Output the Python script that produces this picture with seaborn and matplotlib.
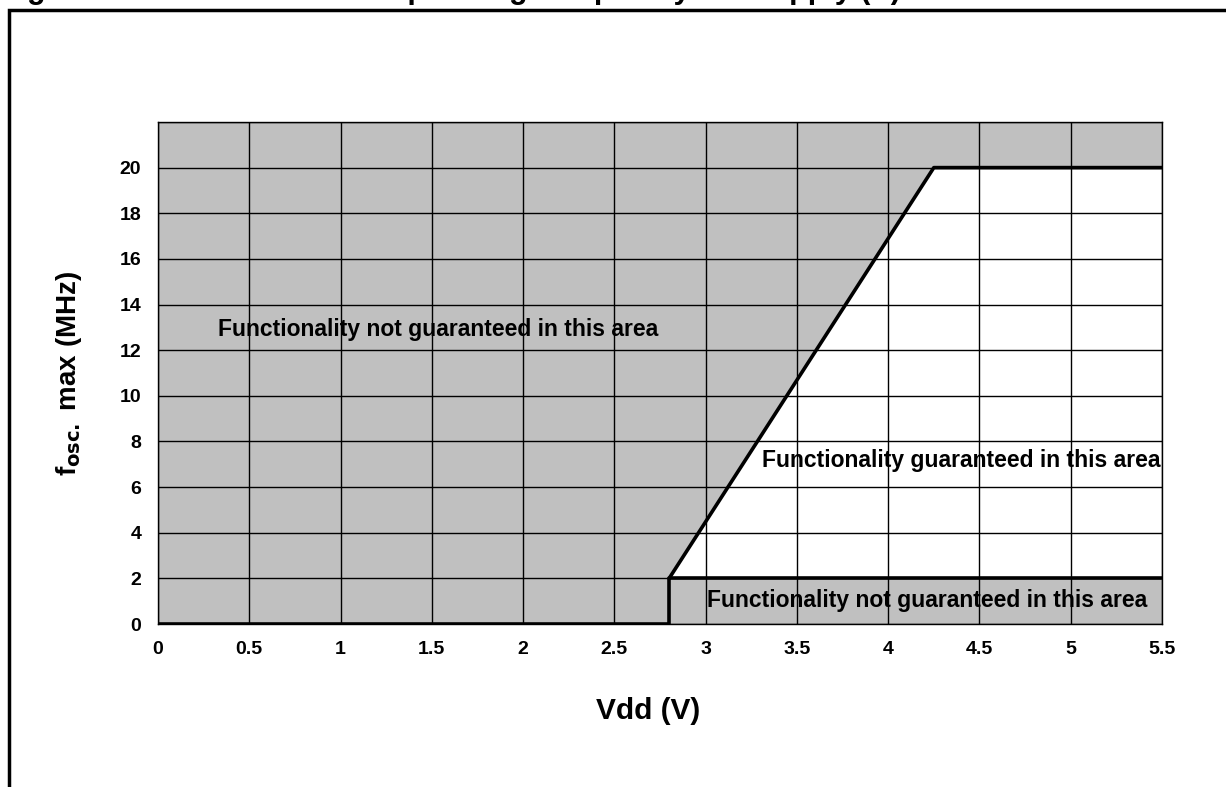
import matplotlib
matplotlib.use("Agg")
import matplotlib.pyplot as plt
import seaborn as sns
import pandas as pd
from matplotlib.patches import Rectangle

# limit line of the guaranteed operating area
limit_vdd = [2.8, 4.25, 5.5]
limit_fosc = [2, 20, 20]
# lower step of the curve
step_vdd = [0, 2.8, 2.8, 5.5]
step_fosc = [0, 0, 2, 2]

x_ticks = [0, 0.5, 1, 1.5, 2, 2.5, 3, 3.5, 4, 4.5, 5, 5.5]
x_labels = ["0", "0.5", "1", "1.5", "2", "2.5", "3", "3.5", "4", "4.5", "5", "5.5"]
y_ticks = [0, 2, 4, 6, 8, 10, 12, 14, 16, 18, 20]
y_labels = ["0", "2", "4", "6", "8", "10", "12", "14", "16", "18", "20"]

sns.set_theme(style="white")
plt.rcParams['font.family'] = ['Liberation Sans', 'DejaVu Sans']
plt.rcParams['font.weight'] = 'bold'
plt.rcParams['text.color'] = 'black'
plt.rcParams['axes.labelcolor'] = 'black'
plt.rcParams['xtick.color'] = 'black'
plt.rcParams['ytick.color'] = 'black'

fig = plt.figure(figsize=(12.26, 7.87), dpi=100)
ax = fig.add_axes([0.1289, 0.2071, 0.8189, 0.6379])
ax.set_facecolor('#c0c0c0')

# white area where the device works
ax.fill_between(limit_vdd, [step_fosc[-1]] * len(limit_vdd), limit_fosc,
                color='white', zorder=1, linewidth=0)

# grid
for xv in x_ticks:
    ax.axvline(xv, color='black', lw=1.0, zorder=2)
for yv in y_ticks + [22]:
    ax.axhline(yv, color='black', lw=1.0, zorder=2)

df_limit = pd.DataFrame({'vdd': limit_vdd, 'fosc': limit_fosc})
df_step = pd.DataFrame({'vdd': step_vdd, 'fosc': step_fosc})
sns.lineplot(data=df_limit, x='vdd', y='fosc', sort=False, estimator=None,
             color='black', lw=2.6, ax=ax, zorder=4)
sns.lineplot(data=df_step, x='vdd', y='fosc', sort=False, estimator=None,
             color='black', lw=2.6, ax=ax, zorder=4)

ax.set_xlim(0, 5.5)
ax.set_ylim(0, 22)
ax.set_xticks(x_ticks)
ax.set_xticklabels(x_labels, fontsize=14, fontweight='bold')
ax.set_yticks(y_ticks)
ax.set_yticklabels(y_labels, fontsize=14, fontweight='bold')
ax.tick_params(length=0, pad=12)
for s in ax.spines.values():
    s.set_color('black')
    s.set_linewidth(1.0)

ax.set_xlabel("Vdd (V)", fontsize=21.5, fontweight='bold')
ax.xaxis.set_label_coords(0.488, -0.145)
ax.set_ylabel(r"f$_{\mathbf{osc.}}$ max (MHz)", fontsize=20, fontweight='bold',
              labelpad=26)

ax.text(0.33, 12.9, "Functionality not guaranteed in this area", fontsize=16.5,
        fontweight='bold', va='center', ha='left', zorder=5)
ax.text(3.31, 7.15, "Functionality guaranteed in this area", fontsize=16.5,
        fontweight='bold', va='center', ha='left', zorder=5)
ax.text(3.01, 1.05, "Functionality not guaranteed in this area", fontsize=16.5,
        fontweight='bold', va='center', ha='left', zorder=5)

# outer frame of the figure
fig.patches.append(Rectangle((0.0075, -0.05), 1.1, 1.037, transform=fig.transFigure,
                             fill=False, edgecolor='black', lw=2.5))
# caption, cut off by the top edge as in the source scan
fig.text(0.0, 1.0 + 2.0 / 787,
         "Figure 12. fosc. maximum Operating Frequency vs. Supply (V)",
         fontsize=22, fontweight='bold', va='baseline', ha='left')

fig.savefig("out.png", dpi=100)
